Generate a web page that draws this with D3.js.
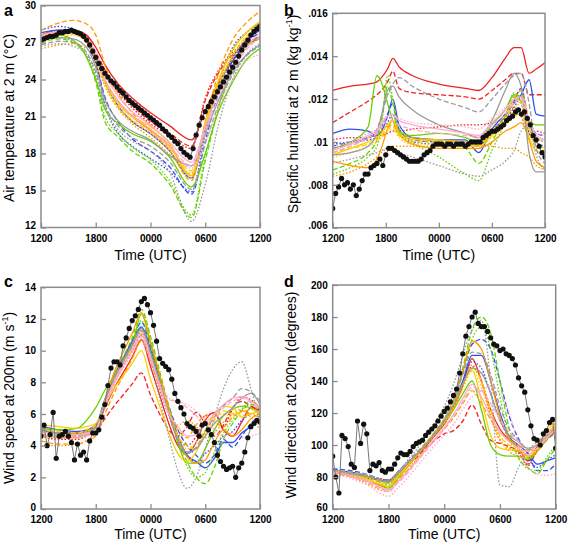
<!DOCTYPE html>
<html><head><meta charset="utf-8">
<script src="https://cdn.jsdelivr.net/npm/d3@7"></script>
<style>
body{margin:0;background:#fff}
svg{display:block}
text{font-family:"Liberation Sans",Arial,Helvetica,sans-serif;fill:#000}
</style>
</head><body>
<svg id="chart" width="568" height="545"></svg>
<script>
// ---------- shared ----------
const hourTicks = [12, 18, 24, 30, 36];
const hourLabels = ["1200", "1800", "0000", "0600", "1200"];
const runPalette = ["#ee2222", "#3050e8", "#66d200", "#ff9a00", "#ffcc00", "#9a9a9a", "#ffaacc"]; // red, blue, green, orange, yellow, grey, pink
const runPatterns = ["solid", "dashed", "dotted"];
const obsTimes = d3.range(73).map(i => 12 + i / 3); // 20-minute observations

// ---------- (a) air temperature at 2 m ----------
const tempTimes = [12, 14, 15.5, 17, 18, 19, 20.5, 22, 24, 26, 28.5, 30, 31.5, 33, 34.5, 36];
const tempTicks = [12, 15, 18, 21, 24, 27, 30];
const tempTickLabels = ["12", "15", "18", "21", "24", "27", "30"];
const tempRuns = [
  [27.6, 28.0, 28.0, 27.6, 26.6, 25.2, 23.6, 22.5, 21.3, 20.3, 19.1, 21.5, 23.8, 25.5, 26.8, 27.3],
  [27.4, 27.8, 27.9, 27.4, 26.2, 24.8, 23.1, 21.9, 20.6, 19.7, 18.6, 22.3, 24.6, 26.0, 26.9, 27.5],
  [27.2, 27.7, 27.8, 27.2, 26.0, 24.5, 22.9, 21.7, 20.4, 19.5, 18.4, 22.5, 24.8, 26.2, 27.0, 27.4],
  [27.8, 28.0, 27.9, 27.2, 25.8, 23.8, 21.8, 20.6, 19.6, 18.3, 16.0, 20.0, 23.5, 25.8, 27.2, 28.0],
  [27.6, 27.9, 27.8, 27.0, 25.3, 22.6, 20.5, 19.2, 18.2, 17.0, 14.7, 19.0, 23.0, 25.5, 27.0, 27.8],
  [28.0, 28.3, 28.1, 27.3, 25.6, 22.0, 19.6, 18.6, 17.6, 16.6, 14.9, 19.6, 23.8, 26.6, 27.8, 28.5],
  [27.4, 27.6, 27.2, 25.8, 24.0, 21.6, 20.4, 19.6, 19.0, 17.8, 15.3, 18.0, 21.5, 23.8, 25.6, 26.5],
  [27.0, 27.3, 27.0, 25.8, 23.8, 20.6, 19.3, 18.2, 17.2, 15.6, 12.8, 17.4, 21.8, 24.8, 26.6, 27.4],
  [27.2, 27.4, 27.1, 26.0, 24.2, 21.0, 19.6, 18.5, 17.5, 15.9, 13.0, 17.8, 22.0, 25.0, 26.7, 27.5],
  [27.5, 27.8, 27.8, 27.3, 26.0, 24.0, 22.2, 21.0, 19.9, 18.7, 16.2, 20.5, 24.0, 26.4, 27.8, 28.6],
  [28.0, 28.6, 28.8, 28.5, 27.6, 25.2, 22.8, 21.3, 19.8, 18.4, 15.8, 20.6, 24.6, 27.2, 28.6, 29.5],
  [26.5, 26.8, 26.9, 26.5, 25.3, 23.5, 21.6, 20.4, 19.3, 18.0, 16.4, 20.2, 23.6, 25.9, 27.4, 28.4],
  [27.5, 27.9, 27.8, 27.0, 25.8, 23.9, 22.0, 21.0, 20.2, 18.9, 16.2, 20.4, 24.0, 26.4, 27.8, 28.7],
  [27.3, 27.7, 27.7, 27.1, 25.9, 23.7, 21.8, 20.7, 19.8, 18.6, 16.6, 20.2, 23.6, 26.0, 27.5, 28.4],
  [27.0, 27.5, 27.6, 27.0, 25.6, 23.5, 21.6, 20.6, 19.6, 18.3, 16.0, 20.0, 23.4, 25.8, 27.3, 28.2],
  [27.2, 27.4, 27.3, 26.6, 25.0, 22.4, 20.6, 19.8, 19.1, 17.9, 17.0, 19.6, 22.4, 24.6, 26.0, 26.8],
  [26.8, 27.1, 27.0, 26.2, 24.6, 22.0, 20.2, 19.3, 18.6, 17.4, 15.1, 18.8, 22.0, 24.4, 25.9, 26.7],
  [26.7, 26.9, 26.7, 26.0, 24.4, 21.8, 19.9, 19.0, 18.2, 16.6, 12.5, 15.5, 20.5, 24.0, 26.0, 26.9],
  [27.6, 27.9, 27.9, 27.3, 26.2, 24.4, 22.6, 21.4, 20.3, 19.0, 17.3, 20.2, 23.0, 25.0, 26.6, 27.8],
  [27.5, 27.8, 27.8, 27.2, 26.0, 24.0, 22.2, 21.1, 20.0, 18.7, 17.0, 19.8, 22.6, 24.8, 26.4, 27.4],
  [27.4, 27.7, 27.7, 27.1, 25.8, 23.8, 22.0, 20.9, 19.8, 18.5, 16.8, 19.0, 21.8, 24.0, 25.5, 26.0]
];
const tempObs = [27.2, 27.3, 27.4, 27.5, 27.5, 27.6, 27.8, 27.8, 27.9, 27.9, 28.0, 27.9, 27.8, 27.7, 27.5, 27.2,
  26.8, 26.3, 25.8, 25.3, 24.9, 24.5, 24.2, 23.9, 23.7, 23.4, 23.1, 22.9, 22.6, 22.3, 22.1, 21.9, 21.7, 21.5,
  21.3, 21.1, 20.9, 20.7, 20.5, 20.3, 20.0, 19.8, 19.5, 19.3, 19.0, 18.8, 18.4, 18.1, 17.9, 17.7, 18.4, 19.5,
  20.3, 20.9, 21.4, 21.8, 22.2, 22.6, 23.0, 23.4, 23.8, 24.2, 24.6, 25.0, 25.4, 25.9, 26.4, 26.8, 27.2, 27.6,
  27.9, 28.1, 28.3];

// ---------- (b) specific humidity at 2 m ----------
const humTimes = [12, 14, 16, 17, 17.5, 18.2, 18.8, 19.5, 21, 24, 27, 28.5, 30, 31.5, 32.5, 33.3, 34.2, 35, 36];
const humTicks = [0.006, 0.008, 0.010, 0.012, 0.014, 0.016];
const humTickLabels = [".006", ".008", ".01", ".012", ".014", ".016"];
const humRuns = [
  [.0124, .0126, .0127, .0128, .0130, .0134, .0139, .0135, .0131, .0127, .0125, .0124, .0130, .0139, .0144, .0144, .0132, .0134, .0137],
  [.0109, .0114, .0119, .0122, .0124, .0128, .0133, .0125, .0123, .0122, .0121, .0120, .0124, .0129, .0132, .0132, .0122, .0122, .0122],
  [.0101, .0102, .0102, .0103, .0103, .0104, .0105, .0105, .0106, .0107, .0108, .0108, .0109, .0111, .0116, .0112, .0104, .0105, .0104],
  [.0104, .0106, .0105, .0103, .0105, .0112, .0120, .0108, .0102, .0101, .0101, .0095, .0106, .0113, .0118, .0122, .0129, .0113, .0112],
  [.0098, .0100, .0102, .0104, .0107, .0113, .0118, .0106, .0101, .0100, .0100, .0098, .0105, .0112, .0119, .0125, .0109, .0104, .0103],
  [.0099, .0100, .0101, .0102, .0104, .0109, .0113, .0104, .0100, .0099, .0099, .0099, .0104, .0110, .0116, .0121, .0104, .0100, .0098],
  [.0097, .0100, .0107, .0131, .0128, .0118, .0110, .0105, .0103, .0104, .0102, .0100, .0108, .0115, .0122, .0121, .0110, .0108, .0108],
  [.0087, .0090, .0095, .0101, .0110, .0126, .0118, .0104, .0102, .0100, .0097, .0090, .0100, .0112, .0121, .0119, .0106, .0102, .0100],
  [.0085, .0088, .0093, .0098, .0106, .0131, .0120, .0106, .0100, .0093, .0085, .0082, .0096, .0110, .0123, .0118, .0104, .0101, .0101],
  [.0091, .0089, .0088, .0092, .0097, .0106, .0110, .0104, .0099, .0097, .0097, .0097, .0100, .0105, .0107, .0109, .0101, .0091, .0088],
  [.0095, .0098, .0102, .0104, .0105, .0107, .0108, .0104, .0102, .0101, .0100, .0099, .0105, .0112, .0120, .0124, .0110, .0100, .0095],
  [.0084, .0086, .0090, .0093, .0095, .0097, .0098, .0098, .0098, .0098, .0098, .0098, .0098, .0097, .0097, .0095, .0093, .0089, .0087],
  [.0094, .0097, .0100, .0102, .0104, .0108, .0110, .0104, .0101, .0101, .0099, .0098, .0103, .0108, .0112, .0113, .0102, .0096, .0094],
  [.0095, .0097, .0099, .0101, .0103, .0106, .0107, .0103, .0100, .0100, .0099, .0099, .0104, .0110, .0118, .0121, .0106, .0100, .0097],
  [.0093, .0095, .0098, .0100, .0102, .0105, .0106, .0102, .0099, .0099, .0098, .0098, .0102, .0108, .0115, .0118, .0104, .0098, .0096],
  [.0094, .0095, .0098, .0104, .0112, .0124, .0126, .0121, .0115, .0108, .0104, .0102, .0110, .0124, .0132, .0126, .0095, .0086, .0086],
  [.0097, .0099, .0102, .0106, .0112, .0122, .0127, .0130, .0126, .0120, .0116, .0114, .0120, .0127, .0131, .0132, .0118, .0097, .0090],
  [.0090, .0092, .0094, .0095, .0096, .0097, .0097, .0095, .0093, .0089, .0085, .0084, .0087, .0091, .0096, .0105, .0108, .0094, .0087],
  [.0096, .0099, .0103, .0105, .0108, .0112, .0113, .0110, .0108, .0106, .0104, .0103, .0109, .0115, .0120, .0121, .0110, .0103, .0101],
  [.0095, .0098, .0102, .0104, .0107, .0110, .0110, .0108, .0106, .0104, .0103, .0102, .0108, .0113, .0118, .0120, .0108, .0102, .0100],
  [.0098, .0100, .0104, .0106, .0109, .0112, .0112, .0111, .0109, .0108, .0107, .0106, .0111, .0116, .0119, .0118, .0106, .0104, .0103]
];
const humObs = [.0069, .0076, .0079, .0083, .0080, .0081, .0078, .0080, .0075, .0078, .0082, .0085, .0085, .0088,
  .0089, .0090, .0092, .0089, .0094, .0097, .0097, .0096, .0095, .0094, .0093, .0092, .0091, .0091, .0091, .0091,
  .0092, .0094, .0095, .0096, .0098, .0099, .0099, .0099, .0098, .0099, .0099, .0098, .0099, .0099, .0099, .0098,
  .0099, .0100, .0100, .0100, .0100, .0102, .0103, .0104, .0105, .0105, .0106, .0107, .0108, .0110, .0111, .0112,
  .0114, .0115, .0113, .0114, .0111, .0108, .0103, .0101, .0098, .0095, .0093];

// ---------- (c) wind speed at 200 m ----------
const speedTimes = [12, 14, 16, 17, 18, 19, 20, 21, 22, 23, 24, 25, 26, 27, 28, 29, 30, 31, 32, 33, 34, 35, 36];
const speedTicks = [0, 2, 4, 6, 8, 10, 12, 14];
const speedTickLabels = ["0", "2", "4", "6", "8", "10", "12", "14"];
const speedRuns = [
  [5.0, 4.8, 4.8, 4.9, 5.2, 6.4, 7.6, 8.6, 9.6, 10.7, 9.0, 7.2, 5.4, 4.0, 3.5, 4.2, 5.6, 6.1, 5.0, 4.6, 5.5, 6.4, 6.2],
  [4.8, 4.6, 4.6, 4.7, 4.9, 5.7, 6.5, 7.2, 7.9, 8.6, 7.2, 6.0, 5.0, 4.6, 5.2, 6.1, 5.4, 4.6, 5.3, 6.4, 6.8, 6.5, 6.3],
  [4.6, 4.4, 4.4, 4.6, 5.0, 6.6, 7.9, 9.0, 10.0, 11.0, 9.4, 7.6, 5.9, 4.5, 4.0, 4.6, 5.9, 6.0, 5.2, 6.3, 7.1, 6.9, 6.4],
  [5.2, 5.0, 4.9, 5.0, 5.3, 6.9, 8.4, 9.5, 10.6, 11.5, 10.1, 8.2, 6.4, 4.6, 3.4, 3.0, 2.6, 3.2, 4.2, 4.2, 4.8, 5.2, 5.6],
  [5.0, 4.8, 4.8, 4.9, 5.2, 6.9, 8.4, 9.5, 10.6, 11.8, 10.3, 8.4, 6.5, 5.0, 4.0, 3.4, 2.9, 3.4, 4.4, 3.9, 4.6, 5.4, 5.9],
  [4.9, 4.7, 4.6, 4.8, 5.1, 6.7, 8.2, 9.3, 10.4, 11.4, 10.0, 8.1, 6.3, 4.6, 3.4, 3.0, 3.5, 4.0, 4.6, 4.9, 5.6, 6.0, 6.2],
  [5.1, 5.0, 5.1, 5.6, 6.4, 7.5, 8.4, 9.3, 10.3, 12.3, 10.5, 8.4, 6.3, 4.2, 2.9, 2.9, 3.8, 5.0, 5.9, 6.3, 6.5, 6.4, 6.0],
  [4.9, 4.8, 4.8, 4.9, 5.2, 6.8, 8.4, 9.6, 10.8, 12.6, 10.9, 8.7, 6.5, 4.5, 3.0, 2.0, 1.6, 2.6, 4.4, 5.4, 6.2, 6.6, 6.3],
  [4.8, 4.6, 4.6, 4.7, 5.0, 6.7, 8.1, 9.2, 10.4, 11.9, 10.3, 8.3, 6.2, 4.2, 2.7, 2.0, 2.3, 3.6, 4.8, 5.6, 6.3, 6.8, 6.4],
  [4.7, 4.5, 4.5, 4.7, 5.0, 6.9, 8.6, 9.9, 11.1, 12.4, 10.6, 8.5, 6.4, 4.4, 3.3, 2.9, 3.1, 4.2, 5.0, 4.6, 5.0, 5.7, 6.0],
  [4.3, 4.1, 4.1, 4.3, 4.6, 6.0, 7.3, 8.4, 9.5, 10.6, 9.3, 7.7, 6.1, 5.0, 4.5, 5.3, 5.9, 5.5, 5.2, 5.8, 6.2, 6.0, 5.8],
  [4.0, 4.0, 4.1, 4.3, 4.7, 6.5, 7.9, 9.0, 10.0, 11.0, 9.5, 7.8, 6.2, 5.3, 5.6, 5.2, 4.5, 4.8, 5.5, 6.0, 6.3, 5.8, 5.0],
  [5.3, 5.2, 5.1, 5.2, 5.4, 6.6, 7.6, 8.4, 9.2, 10.0, 8.2, 6.5, 4.8, 3.5, 3.0, 3.6, 4.9, 6.0, 6.5, 6.4, 5.8, 6.0, 6.2],
  [5.0, 4.9, 4.8, 5.0, 5.3, 6.8, 8.1, 9.2, 10.2, 11.3, 9.8, 8.0, 6.2, 4.6, 4.0, 3.8, 4.7, 5.6, 6.2, 6.0, 6.1, 6.3, 6.0],
  [4.9, 4.8, 4.7, 4.9, 5.1, 6.6, 7.9, 9.0, 10.0, 11.1, 9.6, 7.8, 6.0, 4.5, 3.8, 4.2, 5.0, 5.8, 6.0, 5.8, 5.9, 6.0, 5.8],
  [5.0, 4.8, 4.7, 4.8, 5.1, 6.8, 8.3, 9.4, 10.4, 11.4, 9.9, 8.0, 6.1, 4.4, 3.6, 3.8, 4.6, 5.4, 5.9, 6.4, 7.0, 7.3, 6.6],
  [4.9, 4.7, 4.6, 4.7, 5.0, 6.7, 8.2, 9.3, 10.3, 11.3, 9.8, 7.9, 6.0, 4.3, 3.5, 3.9, 4.9, 5.8, 6.5, 7.0, 7.6, 7.4, 6.8],
  [4.7, 4.5, 4.5, 4.6, 4.9, 6.5, 8.0, 9.1, 10.1, 11.2, 9.4, 7.0, 4.6, 2.4, 1.3, 2.0, 3.8, 5.8, 7.6, 8.8, 9.3, 7.6, 5.5],
  [4.9, 4.7, 4.7, 4.8, 5.0, 6.6, 8.0, 9.1, 10.1, 11.1, 9.6, 7.8, 6.0, 5.2, 4.6, 4.7, 5.4, 6.0, 6.6, 7.0, 7.1, 6.8, 6.4],
  [4.8, 4.6, 4.6, 4.7, 5.0, 6.5, 7.9, 9.0, 9.9, 10.9, 9.5, 7.7, 6.9, 6.8, 6.4, 5.9, 5.3, 5.8, 6.4, 6.8, 7.0, 6.7, 6.3],
  [4.6, 4.5, 4.5, 4.6, 4.9, 6.4, 7.8, 8.9, 9.8, 10.8, 9.4, 8.0, 7.0, 6.8, 6.6, 6.2, 5.6, 5.0, 4.6, 4.8, 4.5, 4.6, 4.8]
];
const speedObs = [4.6, 5.3, 4.0, 4.7, 6.1, 3.2, 4.6, 4.7, 4.9, 4.6, 4.2, 3.1, 4.1, 3.4, 3.6, 3.1, 4.3, 4.8,
  4.8, 5.0, 5.8, 6.6, 7.8, 8.9, 9.3, 9.3, 9.1, 10.3, 10.8, 11.4, 11.9, 12.2, 12.6, 13.1, 13.3, 12.9, 12.4,
  11.6, 10.6, 9.5, 9.2, 9.0, 8.8, 8.2, 7.3, 6.8, 6.4, 6.0, 5.4, 5.2, 5.1, 4.9, 4.6, 5.3, 5.4, 5.0, 4.7, 4.2,
  3.4, 3.0, 2.7, 2.5, 2.6, 2.7, 2.0, 2.6, 2.9, 3.6, 4.5, 5.2, 5.4, 5.6, 5.5];

// ---------- (d) wind direction at 200 m ----------
const dirTimes = [12, 14, 16, 17, 18, 19, 20, 21, 22, 23, 24, 25, 26, 27, 28, 29, 30, 31, 32, 33, 34, 35, 36];
const dirTicks = [60, 80, 100, 120, 140, 160, 180, 200];
const dirTickLabels = ["60", "80", "100", "120", "140", "160", "180", "200"];
const dirRuns = [
  [83, 81, 79, 78, 77, 82, 87, 93, 99, 106, 113, 123, 137, 154, 140, 122, 110, 103, 98, 90, 99, 106, 112],
  [83, 82, 80, 79, 78, 82, 87, 92, 98, 103, 107, 109, 115, 125, 113, 103, 101, 99, 96, 88, 96, 103, 108],
  [84, 82, 80, 79, 78, 83, 88, 94, 100, 107, 114, 124, 137, 149, 140, 118, 103, 98, 95, 87, 97, 104, 109],
  [84, 83, 80, 78, 77, 82, 88, 94, 100, 107, 115, 126, 140, 156, 156, 140, 120, 105, 100, 95, 88, 90, 92],
  [85, 84, 81, 79, 78, 83, 89, 95, 101, 108, 116, 128, 146, 163, 166, 160, 140, 118, 104, 95, 84, 84, 88],
  [83, 82, 80, 78, 77, 82, 88, 94, 100, 107, 114, 125, 139, 152, 148, 132, 116, 104, 99, 92, 86, 90, 94],
  [83, 81, 77, 75, 73, 79, 86, 93, 100, 107, 114, 122, 132, 140, 122, 100, 94, 93, 93, 91, 96, 103, 110],
  [84, 82, 79, 77, 76, 81, 87, 94, 101, 108, 116, 128, 148, 172, 180, 170, 140, 110, 92, 86, 82, 90, 98],
  [84, 82, 79, 77, 75, 80, 87, 94, 101, 108, 116, 127, 145, 166, 174, 160, 130, 105, 92, 85, 84, 92, 100],
  [83, 81, 77, 75, 74, 80, 86, 93, 100, 108, 116, 128, 146, 165, 160, 140, 118, 104, 98, 93, 96, 104, 112],
  [83, 80, 76, 73, 72, 78, 84, 90, 97, 104, 110, 117, 126, 134, 126, 116, 108, 103, 100, 96, 98, 104, 110],
  [82, 80, 75, 72, 71, 77, 84, 91, 98, 106, 113, 123, 137, 150, 140, 120, 104, 96, 93, 92, 98, 106, 114],
  [84, 82, 78, 76, 74, 80, 87, 94, 101, 108, 116, 126, 138, 147, 128, 106, 98, 97, 97, 96, 100, 108, 116],
  [84, 83, 80, 78, 77, 82, 88, 94, 101, 108, 115, 125, 138, 148, 140, 122, 106, 100, 98, 93, 98, 106, 113],
  [83, 82, 79, 77, 76, 81, 87, 93, 100, 107, 114, 123, 135, 146, 136, 118, 103, 98, 96, 92, 97, 104, 111],
  [83, 82, 80, 78, 77, 82, 88, 94, 100, 107, 115, 125, 138, 148, 145, 132, 115, 106, 102, 98, 100, 105, 108],
  [84, 83, 81, 79, 78, 83, 89, 95, 101, 108, 116, 128, 144, 158, 157, 144, 124, 110, 103, 97, 100, 106, 110],
  [83, 82, 80, 78, 77, 83, 90, 97, 105, 114, 124, 138, 156, 172, 178, 140, 75, 74, 86, 96, 102, 106, 108],
  [83, 81, 77, 74, 72, 77, 83, 90, 97, 104, 111, 119, 129, 138, 130, 118, 108, 102, 98, 94, 98, 104, 110],
  [82, 80, 76, 73, 71, 76, 82, 89, 96, 103, 110, 118, 127, 136, 134, 126, 116, 108, 102, 96, 100, 106, 112],
  [82, 79, 74, 70, 68, 73, 79, 86, 93, 100, 106, 113, 122, 130, 134, 137, 132, 120, 100, 86, 82, 81, 82]
];
const dirObs = [93, 80, 70, 106, 104, 99, 88, 86, 115, 101, 113, 107, 84, 88, 87, 89, 84, 83, 85, 85, 88, 92,
  95, 94, 94, 96, 99, 101, 102, 103, 106, 108, 110, 112, 115, 118, 121, 123, 127, 131, 135, 145, 157, 168,
  174, 180, 183, 176, 174, 174, 171, 167, 163, 162, 159, 160, 157, 156, 154, 150, 142, 137, 133, 122, 112,
  104, 103, 100, 107, 109, 114, 116, 98];

// ---------- drawing ----------
const svg = d3.select("#chart");
const frameColor = "#8c8c8c";

const panels = [
  { key: "a", box: [41, 260, 5.5, 227.5], yDomain: [12, 30], yTicks: tempTicks, yLabels: tempTickLabels,
    times: tempTimes, runs: tempRuns, obs: tempObs, letter: [4, 16], xTitleY: 260, yTitleX: 14, yTitleY: 118,
    yTitle: ["Air temperature at 2 m (°C)"] },
  { key: "b", box: [332.7, 545, 13.3, 227.7], yDomain: [0.006, 0.016], yTicks: humTicks, yLabels: humTickLabels,
    times: humTimes, runs: humRuns, obs: humObs, letter: [284, 16], xTitleY: 260, yTitleX: 298, yTitleY: 114,
    yTitle: ["Specific humiditi at 2 m (kg kg", "-1", ")"] },
  { key: "c", box: [41, 260, 287.3, 509], yDomain: [0, 14], yTicks: speedTicks, yLabels: speedTickLabels,
    times: speedTimes, runs: speedRuns, obs: speedObs, letter: [4, 287], xTitleY: 539, yTitleX: 14, yTitleY: 398,
    yTitle: ["Wind speed at 200m (m s", "-1", ")"] },
  { key: "d", box: [332.7, 555.7, 285, 509], yDomain: [60, 200], yTicks: dirTicks, yLabels: dirTickLabels,
    times: dirTimes, runs: dirRuns, obs: dirObs, letter: [284, 287], xTitleY: 539, yTitleX: 296, yTitleY: 395,
    yTitle: ["Wind direction at 200m (degrees)"] }
];

panels.forEach(p => {
  const [x0, x1, y0, y1] = p.box;
  const x = d3.scaleLinear().domain([12, 36]).range([x0, x1]);
  const y = d3.scaleLinear().domain(p.yDomain).range([y1, y0]);
  const g = svg.append("g");

  const clipId = "clip-" + p.key;
  svg.append("clipPath").attr("id", clipId)
    .append("rect").attr("x", x0).attr("y", y0).attr("width", x1 - x0).attr("height", y1 - y0);

  const plot = g.append("g").attr("clip-path", `url(#${clipId})`);
  const line = d3.line().x((d, i) => x(p.times[i])).y(d => y(d)).curve(d3.curveMonotoneX);

  p.runs.forEach((vals, i) => {
    const pattern = runPatterns[i % 3];
    plot.append("path")
      .attr("d", line(vals))
      .attr("fill", "none")
      .attr("stroke", runPalette[Math.floor(i / 3)])
      .attr("stroke-width", 1.3)
      .attr("stroke-dasharray", pattern === "dashed" ? "5,2.5" : pattern === "dotted" ? "1.6,1.8" : null);
  });

  const obsLine = d3.line().x((d, i) => x(obsTimes[i])).y(d => y(d));
  plot.append("path").attr("d", obsLine(p.obs)).attr("fill", "none")
    .attr("stroke", "#777").attr("stroke-width", 1);
  plot.selectAll("circle.obs").data(p.obs).join("circle")
    .attr("class", "obs")
    .attr("cx", (d, i) => x(obsTimes[i])).attr("cy", d => y(d)).attr("r", 2.6).attr("fill", "#111");

  // axes (ticks pointing inward)
  const xAxis = d3.axisBottom(x).tickValues(hourTicks).tickFormat((d, i) => hourLabels[i])
    .tickSizeInner(-5).tickSizeOuter(0).tickPadding(7);
  const gx = g.append("g").attr("transform", `translate(0,${y1})`).call(xAxis);
  const yAxis = d3.axisLeft(y).tickValues(p.yTicks).tickFormat((d, i) => p.yLabels[i])
    .tickSizeInner(-5).tickSizeOuter(0).tickPadding(5);
  const gy = g.append("g").attr("transform", `translate(${x0},0)`).call(yAxis);
  [gx, gy].forEach(ax => {
    ax.select(".domain").remove();
    ax.selectAll(".tick line").attr("stroke", frameColor).attr("stroke-width", 1.3);
    ax.selectAll(".tick text").attr("font-size", 10).attr("font-weight", "bold")
      .attr("font-family", '"Liberation Sans",Arial,sans-serif').attr("fill", "#000");
  });
  // lift the lowest y label a little so it clears the time labels
  gy.selectAll(".tick text").filter((d, i) => i === 0).attr("dy", "0.1em");

  g.append("rect").attr("x", x0).attr("y", y0).attr("width", x1 - x0).attr("height", y1 - y0)
    .attr("fill", "none").attr("stroke", frameColor).attr("stroke-width", 1.5);

  // titles
  g.append("text").attr("x", (x0 + x1) / 2).attr("y", p.xTitleY).attr("text-anchor", "middle")
    .attr("font-size", 14).text("Time (UTC)");

  const yt = g.append("text").attr("transform", `translate(${p.yTitleX},${p.yTitleY}) rotate(-90)`)
    .attr("text-anchor", "middle").attr("font-size", 14);
  yt.append("tspan").text(p.yTitle[0]);
  if (p.yTitle.length > 1) {
    yt.append("tspan").attr("font-size", 9).attr("dy", -6).text(p.yTitle[1]);
    yt.append("tspan").attr("dy", 6).text(p.yTitle[2]);
  }

  g.append("text").attr("x", p.letter[0]).attr("y", p.letter[1])
    .attr("font-size", 16).attr("font-weight", "bold").text(p.key);
});
</script>
</body></html>
